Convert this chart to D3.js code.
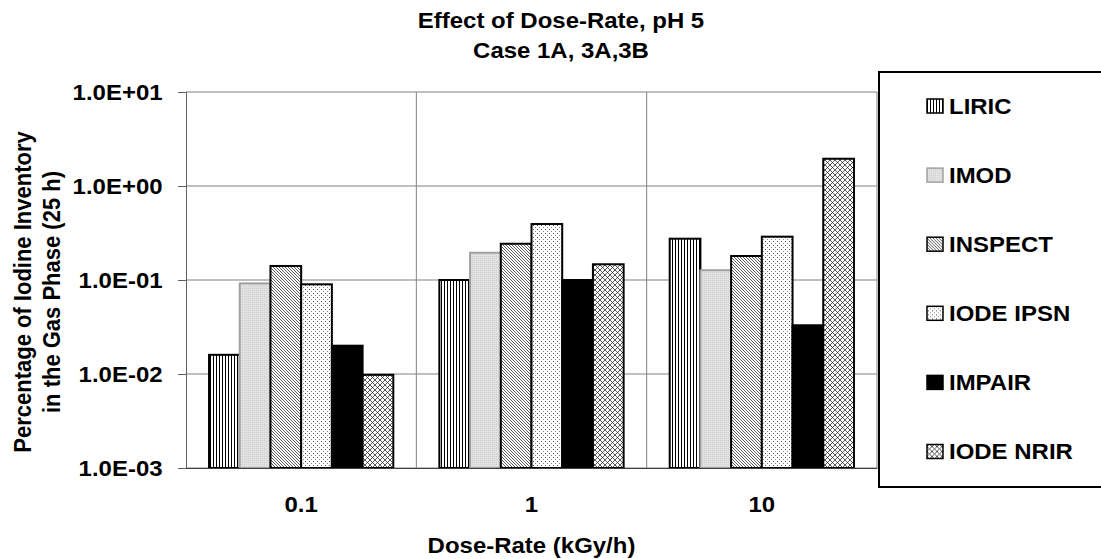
<!DOCTYPE html>
<html><head><meta charset="utf-8">
<script src="https://cdn.jsdelivr.net/npm/d3@7"></script>
<style>
html,body{margin:0;padding:0;background:#fff;}
svg text{font-family:Arial,"Liberation Sans",sans-serif;font-weight:bold;fill:#000;}
</style></head>
<body>
<svg id="chart" width="1101" height="559"></svg>
<script>
const categories = ["0.1", "1", "10"];
const seriesNames = ["LIRIC", "IMOD", "INSPECT", "IODE IPSN", "IMPAIR", "IODE NRIR"];
const LIRIC     = [0.016, 0.100, 0.275];
const IMOD      = [0.092, 0.195, 0.127];
const INSPECT   = [0.141, 0.243, 0.180];
const IODE_IPSN = [0.090, 0.394, 0.289];
const IMPAIR    = [0.020, 0.100, 0.033];
const IODE_NRIR = [0.0098, 0.147, 1.95];
const seriesValues = [LIRIC, IMOD, INSPECT, IODE_IPSN, IMPAIR, IODE_NRIR];
const yTicks = [0.001, 0.01, 0.1, 1, 10];
const yTickLabels = ["1.0E-03", "1.0E-02", "1.0E-01", "1.0E+00", "1.0E+01"];
const titleLines = ["Effect of Dose-Rate, pH 5", "Case 1A, 3A,3B"];
const yTitleLines = ["Percentage of Iodine Inventory", "in the Gas Phase (25 h)"];
const xTitle = "Dose-Rate (kGy/h)";

const SX = 1.09;
const FS = 22;
const svg = d3.select("#chart");
const defs = svg.append("defs");

function pat(id, w, h, bg) {
  const p = defs.append("pattern").attr("id", id).attr("patternUnits", "userSpaceOnUse")
    .attr("width", w).attr("height", h);
  p.append("rect").attr("width", w).attr("height", h).attr("fill", bg);
  return p;
}
let p;
p = pat("p-liric", 3, 3, "#fff");
p.append("rect").attr("x", 0).attr("y", 0).attr("width", 1).attr("height", 3).attr("fill", "#000");
p = pat("p-imod", 2, 2, "#e2e2e2");
p.append("rect").attr("x", 0).attr("y", 0).attr("width", 1).attr("height", 1).attr("fill", "#cfcfcf");
p = pat("p-inspect", 3, 3, "#fff");
p.append("path").attr("d", "M-1,-1L4,4M-1,2L1,4M2,-1L4,1").attr("stroke", "#333").attr("stroke-width", 0.8);
p = pat("p-ipsn", 4, 4, "#fff");
p.append("rect").attr("x", 1).attr("y", 1).attr("width", 1).attr("height", 1).attr("fill", "#555");
p.append("rect").attr("x", 3).attr("y", 3).attr("width", 1).attr("height", 1).attr("fill", "#888");
p = pat("p-nrir", 5, 5, "#fff");
p.append("path").attr("d", "M-1,-1L6,6M-1,4L1,6M4,-1L6,1M6,-1L-1,6M1,-1L-1,1M6,4L4,6").attr("stroke", "#222").attr("stroke-width", 0.75);

const fills = ["url(#p-liric)", "url(#p-imod)", "url(#p-inspect)", "url(#p-ipsn)", "#000", "url(#p-nrir)"];
const strokes = ["#000", "#a0a0a0", "#000", "#000", "#000", "#000"];

const pLeft = 186, pRight = 877, pTop = 92, pBottom = 468;
const x0 = d3.scaleBand().domain(categories).range([pLeft, pRight]).paddingInner(0).paddingOuter(0);
const bw = x0.bandwidth();
const gap = bw * 0.2;
const x1 = d3.scaleBand().domain(seriesNames).range([gap / 2, bw - gap / 2]).padding(0);
const y = d3.scaleLog().domain([0.001, 10]).range([pBottom, pTop]);

svg.append("g").selectAll("line").data(yTicks).join("line")
  .attr("x1", pLeft).attr("x2", pRight)
  .attr("y1", d => y(d)).attr("y2", d => y(d))
  .attr("stroke", "#808080").attr("stroke-width", 1);
const vb = categories.slice(1).map(c => x0(c)).concat([pRight]);
svg.append("g").selectAll("line").data(vb).join("line")
  .attr("x1", d => d).attr("x2", d => d).attr("y1", pTop).attr("y2", pBottom)
  .attr("stroke", "#808080").attr("stroke-width", 1);

const rows = [];
categories.forEach((c, ci) => seriesNames.forEach((s, si) => rows.push({c, s, si, v: seriesValues[si][ci]})));
svg.append("g").selectAll("rect").data(rows).join("rect")
  .attr("x", d => x0(d.c) + x1(d.s))
  .attr("width", x1.bandwidth())
  .attr("y", d => y(d.v))
  .attr("height", d => y.range()[0] - y(d.v))
  .attr("fill", d => fills[d.si])
  .attr("stroke", d => strokes[d.si])
  .attr("stroke-width", 2);

const yAxis = d3.axisLeft(y).tickValues(yTicks).tickFormat((d, i) => yTickLabels[i])
  .tickSize(8).tickPadding(13.5);
const yg = svg.append("g").attr("transform", `translate(${pLeft},0)`).call(yAxis);
yg.select(".domain").attr("stroke", "#606060").attr("stroke-width", 1);
yg.selectAll(".tick line").attr("stroke", "#606060");
yg.selectAll(".tick text").attr("font-size", FS).attr("font-family", null)
  .attr("transform", `scale(${SX},1)`).attr("dy", "0.36em");

const xAxis = d3.axisBottom(x0).tickSize(0).tickPadding(28.5);
const xg = svg.append("g").attr("transform", `translate(0,${pBottom})`).call(xAxis);
xg.select(".domain").attr("stroke", "#404040").attr("stroke-width", 1.2);
xg.selectAll(".tick text").attr("font-size", FS).attr("font-family", null)
  .attr("transform", `scale(${SX},1)`);

svg.append("g").selectAll("text").data(titleLines).join("text")
  .attr("transform", (d, i) => `translate(561,${28 + i * 30}) scale(${SX},1)`)
  .attr("text-anchor", "middle").attr("font-size", FS).text(d => d);

svg.append("text").attr("transform", `translate(${(pLeft + pRight) / 2},553) scale(${SX},1)`)
  .attr("text-anchor", "middle").attr("font-size", FS).text(xTitle);

svg.append("g").selectAll("text").data(yTitleLines).join("text")
  .attr("transform", (d, i) => `translate(${[31, 60][i]},292) scale(${SX},1) rotate(-90)`)
  .attr("text-anchor", "middle").attr("font-size", FS).text(d => d);

svg.append("rect").attr("x", 879).attr("y", 72).attr("width", 240).attr("height", 415)
  .attr("fill", "#fff").attr("stroke", "#000").attr("stroke-width", 2);
const lg = svg.append("g").selectAll("g").data(seriesNames).join("g")
  .attr("transform", (d, i) => `translate(927,${106 + i * 69.1})`);
lg.append("rect").attr("x", 0).attr("y", -7).attr("width", 16).attr("height", 14)
  .attr("fill", (d, i) => fills[i]).attr("stroke", (d, i) => strokes[i]).attr("stroke-width", 1.5);
lg.append("text").attr("transform", `translate(22,7.8) scale(${SX},1)`)
  .attr("font-size", FS).text(d => d);
</script>
</body></html>
